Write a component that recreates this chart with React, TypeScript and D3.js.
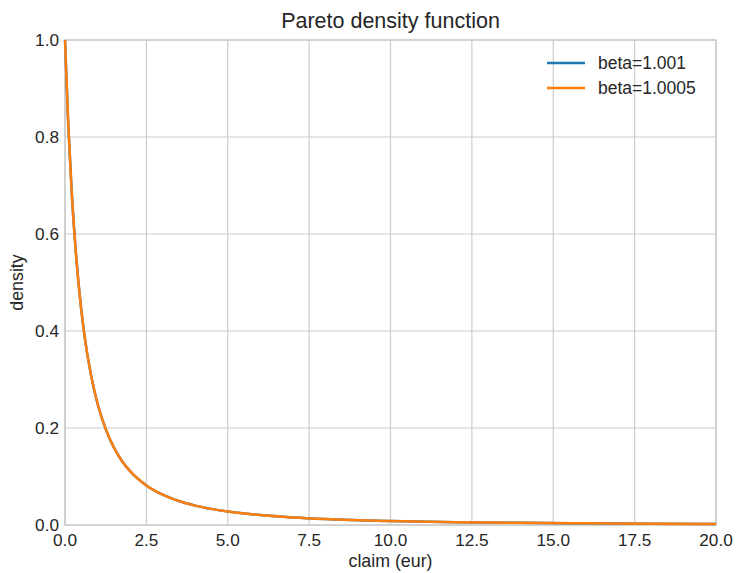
import React from 'react';
import * as d3 from 'd3';

const claims = [0, 0.1, 0.2, 0.3, 0.4, 0.5, 0.6, 0.8, 1.0, 1.25, 1.5, 1.75, 2.0, 2.5, 3.0, 3.5, 4.0, 5.0, 6.0, 7.0, 8.0, 10.0, 12.0, 14.0, 16.0, 18.0, 20.0];
const densityBeta1001 = [1.0, 0.826, 0.694, 0.592, 0.51, 0.444, 0.39, 0.309, 0.25, 0.198, 0.16, 0.132, 0.111, 0.0816, 0.0625, 0.0494, 0.04, 0.0278, 0.0204, 0.0156, 0.0123, 0.0083, 0.0059, 0.0044, 0.0035, 0.0028, 0.0023];
const densityBeta10005 = [1.0, 0.826, 0.694, 0.592, 0.51, 0.444, 0.39, 0.309, 0.25, 0.198, 0.16, 0.132, 0.111, 0.0816, 0.0625, 0.0494, 0.04, 0.0278, 0.0204, 0.0156, 0.0123, 0.0083, 0.0059, 0.0044, 0.0035, 0.0028, 0.0023];
const seriesNames = ['beta=1.001', 'beta=1.0005'];
const xTicks = [0, 2.5, 5, 7.5, 10, 12.5, 15, 17.5, 20];
const yTicks = [0, 0.2, 0.4, 0.6, 0.8, 1.0];

const colors = ['#1f77b4', '#ff7f0e'];
const gridColor = '#cccccc';
const textColor = '#262626';
const font = '"Liberation Sans", Arial, sans-serif';

export default function App() {
  const width = 737, height = 573;
  const margin = { top: 40, right: 21, bottom: 48, left: 65 };

  const x = d3.scaleLinear().domain([0, 20]).range([margin.left, width - margin.right]);
  const y = d3.scaleLinear().domain([0, 1]).range([height - margin.bottom, margin.top]);

  const line = d3.line<number>()
    .x((_, i) => x(claims[i]))
    .y((d) => y(d))
    .curve(d3.curveMonotoneX);

  const series = [densityBeta1001, densityBeta10005];

  return (
    <svg width={width} height={height} style={{ position: 'absolute', left: 0, top: 0 }} fontFamily={font}>
      <rect width={width} height={height} fill="white" />
      {/* grid */}
      {xTicks.map((t, i) => (
        <line key={'gx' + i} x1={x(t)} x2={x(t)} y1={y(0)} y2={y(1)} stroke={gridColor} strokeWidth={1.2} />
      ))}
      {yTicks.map((t, i) => (
        <line key={'gy' + i} x1={x(0)} x2={x(20)} y1={y(t)} y2={y(t)} stroke={gridColor} strokeWidth={1.2} />
      ))}
      <rect x={x(0)} y={y(1)} width={x(20) - x(0)} height={y(0) - y(1)} fill="none" stroke={gridColor} strokeWidth={1.5} />

      {/* curves */}
      <g clipPath="url(#plotclip)">
        {series.map((s, i) => (
          <path key={i} d={line(s) || ''} fill="none" stroke={colors[i]} strokeWidth={2.5} />
        ))}
      </g>
      <defs>
        <clipPath id="plotclip">
          <rect x={x(0) - 2} y={y(1) - 2} width={x(20) - x(0) + 4} height={y(0) - y(1) + 4} />
        </clipPath>
      </defs>

      {/* tick labels */}
      {xTicks.map((t, i) => (
        <text key={'tx' + i} x={x(t)} y={y(0) + 20.5} textAnchor="middle" fontSize={17.2} fill={textColor}>{t.toFixed(1)}</text>
      ))}
      {yTicks.map((t, i) => (
        <text key={'ty' + i} x={x(0) - 6} y={y(t) + 6.2} textAnchor="end" fontSize={17.2} fill={textColor}>{t.toFixed(1)}</text>
      ))}

      {/* labels */}
      <text x={(x(0) + x(20)) / 2} y={28} textAnchor="middle" fontSize={21.5} fill={textColor}>Pareto density function</text>
      <text x={(x(0) + x(20)) / 2} y={567} textAnchor="middle" fontSize={17.8} fill={textColor}>claim (eur)</text>
      <text transform={`translate(23,${(y(0) + y(1)) / 2}) rotate(-90)`} textAnchor="middle" fontSize={17.8} fill={textColor}>density</text>

      {/* legend */}
      {seriesNames.map((n, i) => (
        <g key={'lg' + i} transform={`translate(547,${63 + i * 25})`}>
          <line x1={0} x2={38} y1={0} y2={0} stroke={colors[i]} strokeWidth={2.5} />
          <text x={51} y={6} fontSize={17.5} fill={textColor}>{n}</text>
        </g>
      ))}
    </svg>
  );
}
